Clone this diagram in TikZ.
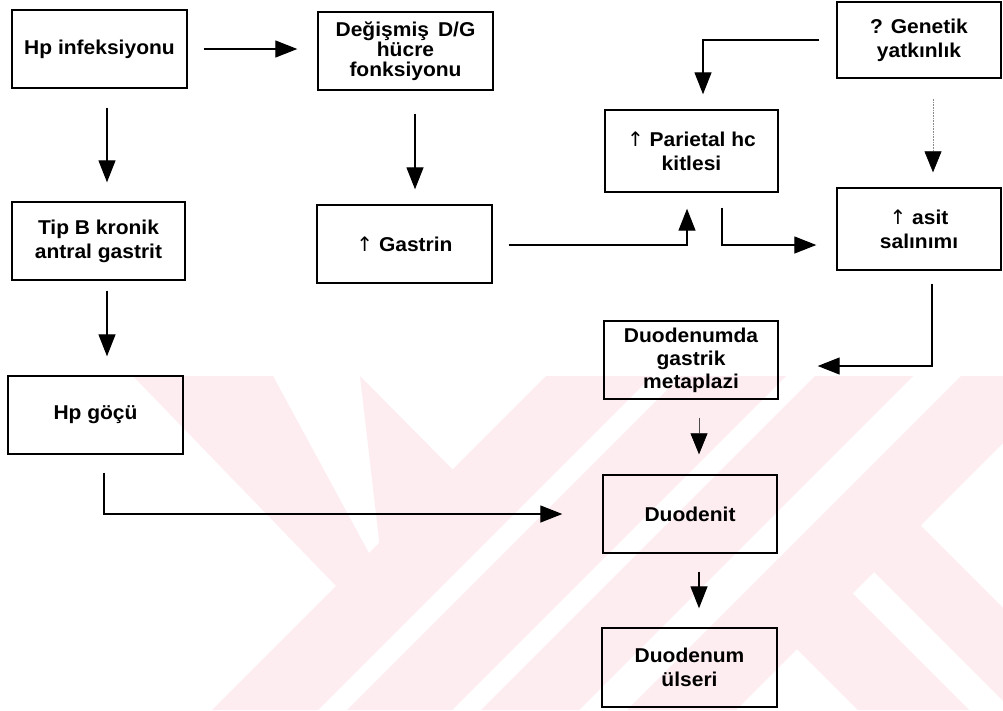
\documentclass[tikz,border=0pt]{standalone}
\usepackage{fontspec}
\setmainfont{Liberation Sans}[FakeStretch=1.05]
\newfontfamily\arrowfont{DejaVu Sans}
\usetikzlibrary{arrows.meta,calc}
\definecolor{wmpink}{RGB}{253,236,240}
\newcommand{\up}{{\arrowfont\mdseries\char"2191}}
\begin{document}
\begin{tikzpicture}[x=1pt,y=-1pt,
  box/.style={draw, line width=1.4pt, minimum width=175pt, minimum height=78pt,
    align=center, inner sep=0pt, font=\bfseries\fontsize{20}{24}\selectfont},
  arr/.style={line width=1.3pt, -{Triangle[length=22pt,width=17pt]}},
  faintarr/.style={line width=0.6pt, draw=black!70, -{Triangle[length=21pt,width=17pt,color=black]}},
  dotarr/.style={line width=0.6pt, draw=black!45, densely dotted, -{Triangle[length=21pt,width=17pt,color=black]}}]
\useasboundingbox (0,0) rectangle (1003,710);
\fill[white] (0,0) rectangle (1003,710);
% watermark
\begin{scope}
\clip (0,376) rectangle (1003,710);
\fill[wmpink] (546,376) -- (652,376) -- (318,710) -- (212,710) -- cycle;
\fill[wmpink] (681,376) -- (786,376) -- (452,710) -- (347,710) -- cycle;
\fill[wmpink] (815,376) -- (913,376) -- (579,710) -- (481,710) -- cycle;
\fill[wmpink] (961,376) -- (1070,376) -- (736,710) -- (627,710) -- cycle;
\fill[wmpink] (133,376) -- (273,376) -- (370,555) -- (340,590) -- cycle;
\fill[wmpink] (360,376) -- (455,472) -- (380,548) -- cycle;
\fill[wmpink] (790,642) -- (845,586) -- (969,710) -- (858,710) -- cycle;
\fill[wmpink] (867,565) -- (913,518) -- (1105,710) -- (1012,710) -- cycle;
\end{scope}
% boxes
\node[box] (B1) at (99.5,49) {Hp infeksiyonu};
\node[box, minimum width=173pt] (B2) at (98.5,241) {Tip B kronik\\antral gastrit};
\node[box, font=\bfseries\fontsize{20}{20}\selectfont] (B3) at (405.5,51) {Değişmiş\hspace{9pt}D/G\\hücre\\fonksiyonu};
\node[box] (B4) at (404.5,244) {\up\ Gastrin};
\node[box, minimum width=173pt, minimum height=82pt] (B5) at (691.5,151) {\up\ Parietal hc\\kitlesi};
\node[box, minimum width=164pt, minimum height=76pt] (B6) at (919,40) {? Genetik\\yatkınlık};
\node[box, minimum width=164pt, minimum height=82pt] (B7) at (919,229) {\up\ asit\\salınımı};
\node[box, minimum width=174pt, font=\bfseries\fontsize{20}{23}\selectfont] (B8) at (691,360) {Duodenumda\\gastrik\\metaplazi};
\node[box, minimum width=174pt] (B9) at (690,514) {Duodenit};
\node[box, minimum height=79pt] (B10) at (689.5,667.5) {Duodenum\\ülseri};
\node[box] (B11) at (95.5,415) {Hp göçü};
% connectors
\draw[arr, shorten <=16pt, shorten >=20pt] (B1.east) -- (B1.east -| B3.west);
\draw[arr, shorten <=19pt, shorten >=19pt] ($(B1.south)+(7.5,0)$) -- ($(B2.north)+(8.5,0)$);
\draw[arr, shorten <=10pt, shorten >=19pt] ($(B2.south)+(8.5,0)$) -- ($(B11.north)+(11.5,0)$);
\draw[arr, shorten <=23pt, shorten >=15pt] ($(B3.south)+(9.5,0)$) -- ($(B4.north)+(10.5,0)$);
\draw[arr, shorten <=16pt, shorten >=16pt] ($(B4.east)+(0,1)$) -| ($(B5.south)+(-4.5,0)$);
\draw[arr, shorten <=17pt, shorten >=15pt] (B6.west) -| ($(B5.north)+(11.5,0)$);
\draw[dotarr, shorten <=20pt, shorten >=15pt] ($(B6.south)+(14,0)$) -- ($(B7.north)+(14,0)$);
\draw[arr, shorten <=15pt, shorten >=20pt] ($(B5.south)+(30.5,0)$) |- ($(B7.west)+(0,16)$);
\draw[arr, shorten <=13pt, shorten >=39pt] ($(B7.south)+(13,0)$) |- ($(B8.east)+(0,6)$);
\draw[faintarr, shorten <=18pt, shorten >=20pt] ($(B8.south)+(8,0)$) -- ($(B9.north)+(9,0)$);
\draw[arr, shorten <=18pt, shorten >=19pt] ($(B9.south)+(9,0)$) -- ($(B10.north)+(9.5,0)$);
\draw[arr, shorten <=18pt, shorten >=40pt] ($(B11.south)+(8.5,0)$) |- (B9.west);
\end{tikzpicture}
\end{document}
